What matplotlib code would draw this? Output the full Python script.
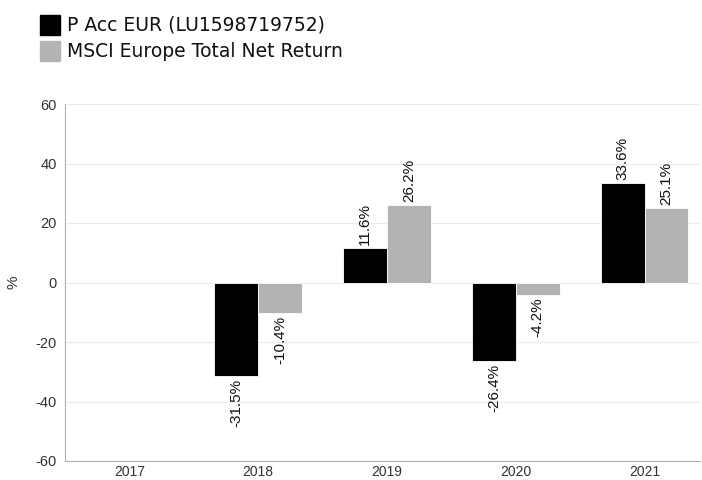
import matplotlib
matplotlib.use("Agg")
import matplotlib.pyplot as plt
from matplotlib.patches import Rectangle
import numpy as np

years = ["2017", "2018", "2019", "2020", "2021"]
fund = [np.nan, -31.5, 11.6, -26.4, 33.6]
index = [np.nan, -10.4, 26.2, -4.2, 25.1]
fund_name = "P Acc EUR (LU1598719752)"
index_name = "MSCI Europe Total Net Return"

plt.rcParams['font.family'] = ['Liberation Sans', 'DejaVu Sans']
plt.rcParams['axes.unicode_minus'] = False

fig = plt.figure(figsize=(7.02, 4.8), dpi=100)
ax = fig.add_axes([65 / 702, 19 / 480, 635 / 702, 357 / 480])

x = np.arange(len(years))
w = 0.34
ax.bar(x - w / 2, fund, w, color="black", edgecolor="white", linewidth=0.6, zorder=3)
ax.bar(x + w / 2, index, w, color="#b3b3b3", edgecolor="white", linewidth=0.6, zorder=3)

# value labels
for xs, vals in [(x - w / 2, fund), (x + w / 2, index)]:
    for xi, v in zip(xs, vals):
        if np.isnan(v):
            continue
        if v >= 0:
            ax.annotate(f"{v:.1f}%", (xi, v), xytext=(0, 2), textcoords="offset points",
                        rotation=90, ha="center", va="bottom", fontsize=11, color="#111111")
        else:
            ax.annotate(f"{v:.1f}%", (xi, v), xytext=(0, -2), textcoords="offset points",
                        rotation=90, ha="center", va="top", fontsize=11, color="#111111")

ax.set_xlim(-0.5, 4.43)
ax.set_ylim(-60, 60)
ax.set_yticks(range(-60, 61, 20))
ax.set_xticks(x)
ax.set_xticklabels(years)
ax.tick_params(length=0, labelsize=10.5, labelcolor="#333333")
ax.tick_params(axis="y", pad=6)
ax.tick_params(axis="x", labelsize=10, pad=3)
ax.grid(axis="y", color="#ebebeb", linewidth=0.8, zorder=0)
for s in ["top", "right"]:
    ax.spines[s].set_visible(False)
for s in ["left", "bottom"]:
    ax.spines[s].set_color("#b0b0b0")
    ax.spines[s].set_linewidth(0.8)
fig.text(14 / 702, 1 - 282 / 480, "%", fontsize=11, color="#333333",
         rotation=90, ha="center", va="center")

# legend at top left
for i, (name, col) in enumerate([(fund_name, "black"), (index_name, "#b3b3b3")]):
    y0 = 1 - (15 + 26 * i) / 480
    fig.patches.append(Rectangle((40 / 702, y0 - 20 / 480), 20 / 702, 20 / 480,
                                 transform=fig.transFigure, color=col))
    fig.text(67 / 702, y0 - 10 / 480, name, fontsize=13.5, va="center", ha="left",
             family=["DejaVu Sans"], color="#111111")

fig.savefig("out.png", dpi=100)
